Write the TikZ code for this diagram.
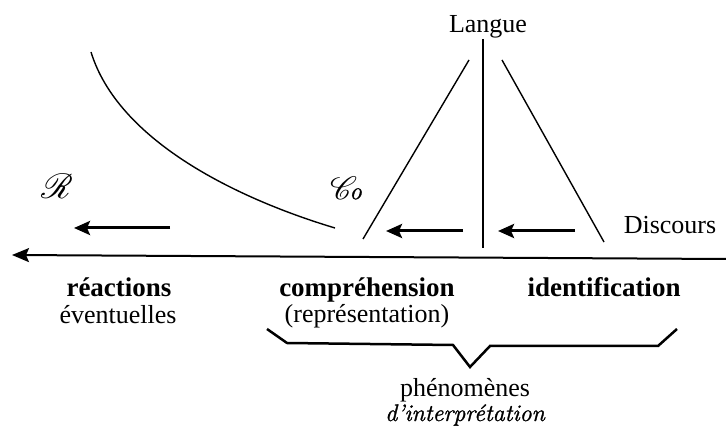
\documentclass[tikz,border=0pt]{standalone}
\usepackage{fontspec}
\setmainfont{Liberation Serif}
\newfontfamily\lmroman{Latin Modern Roman}[ItalicFeatures={FakeBold=1.3}]
\usepackage{mathrsfs}
\usepackage{graphicx}
\usetikzlibrary{arrows.meta}
\begin{document}
\begin{tikzpicture}[x=1pt,y=-1pt,
  txt/.style={anchor=base,inner sep=0pt,font=\fontsize{26}{26}\selectfont},
  btxt/.style={anchor=base,inner sep=0pt,font=\fontsize{27}{27}\selectfont\bfseries},
  itxt/.style={anchor=base,inner sep=0pt,font=\fontsize{24}{24}\selectfont\lmroman\itshape},
  scr/.style={anchor=center,inner sep=0pt,font=\fontsize{24.88}{25}\selectfont},
  thin/.style={line width=1.4pt},
  bigarrow/.style={line width=3pt,-{Stealth[length=16pt,width=14pt,inset=3pt]}},
  mainarrow/.style={line width=2pt,-{Stealth[length=17pt,width=14pt,inset=3pt]}},
  bracestyle/.style={line width=2.5pt,line join=miter}]
\useasboundingbox (0,0) rectangle (726,430);

% main axis
\coordinate (axR) at (726,259);
\coordinate (axL) at (12,255);
\draw[mainarrow] (axR) -- (axL);

% curve
\draw[thin] (91,52) .. controls (118,140) and (235,198) .. (335,228);

% Langue cone
\draw[thin] (483,39) -- (483,248);
\draw[thin] (469,60) -- (363,239);
\draw[thin] (502,60) -- (604,242);

% thick arrows
\coordinate (a1s) at (170,228); \coordinate (a1e) at (74,228);
\coordinate (a2s) at (463,231); \coordinate (a2e) at (386,231);
\coordinate (a3s) at (575,231); \coordinate (a3e) at (498,231);
\draw[bigarrow] (a1s) -- (a1e);
\draw[bigarrow] (a2s) -- (a2e);
\draw[bigarrow] (a3s) -- (a3e);

% labels
\node[txt] (langue) at (488,33) {Langue};
\node[txt] (discours) at (670,234) {Discours};
\node[scr] (R) at (57,186) {\scalebox{1.4}{$\mathscr{R}$}};
\node[scr] (Co) at (346,188) {\scalebox{1.3}{$\mathscr{C}$\kern-6pt{\lmroman\itshape\fontsize{19}{19}\selectfont o}}};

\node[btxt] (reac) at (119,297) {réactions};
\node[txt] (event) at (118,324) {éventuelles};
\node[btxt] (compr) at (367,297) {compréhension};
\node[txt] (repr) at (367,323) {(représentation)};
\node[btxt] (ident) at (604,297) {identification};
\node[txt] (phen) at (465,396) {phénomènes};
\node[itxt] (interp) at (465,421) {d’interprétation};

% brace
\draw[bracestyle] (267,329) -- (287,343) -- (453,345) -- (470,367) -- (490,346) -- (658,346) -- (677,329);
\end{tikzpicture}
\end{document}
